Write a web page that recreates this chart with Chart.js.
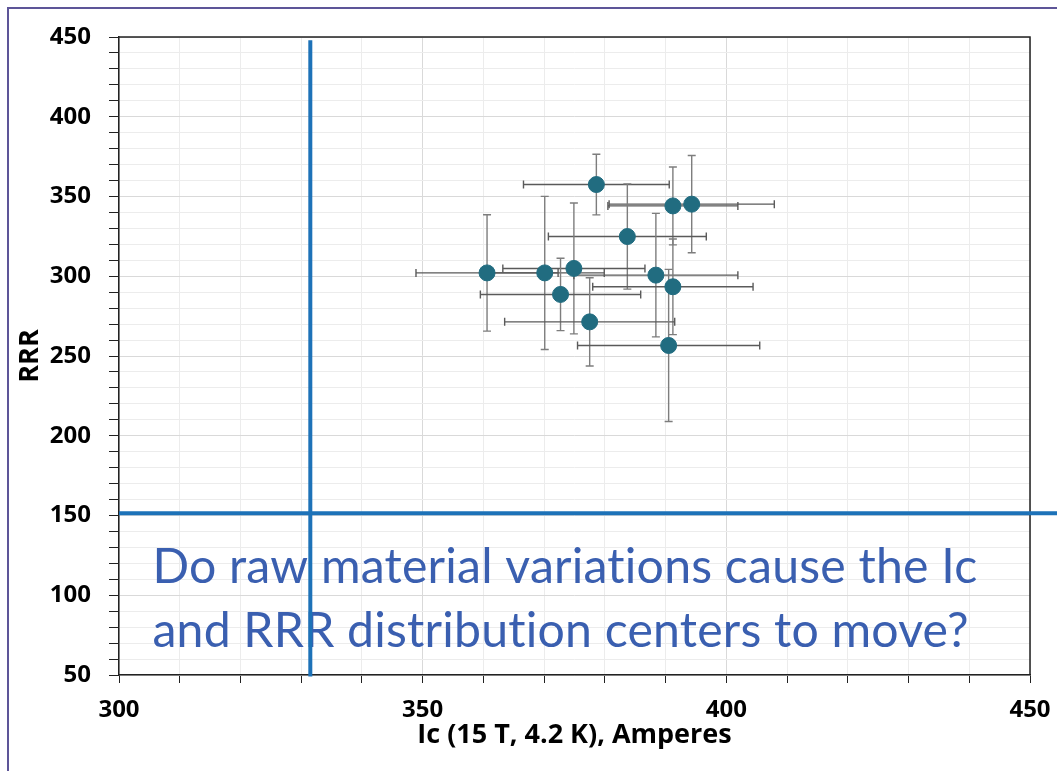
<!DOCTYPE html>
<html>
<head>
<meta charset="utf-8">
<script src="https://cdn.jsdelivr.net/npm/chart.js@4.4.1/dist/chart.umd.min.js"></script>
<style>
  html, body { margin: 0; padding: 0; background: #ffffff; }
  #wrap { position: relative; width: 1057px; height: 771px; overflow: hidden; }
  #frame { position: absolute; left: 7px; top: 7px; width: 1100px; height: 800px;
           border-left: 2px solid #5d5598; border-top: 2px solid #5d5598; pointer-events: none; }
  canvas { position: absolute; left: 0; top: 0; }
</style>
</head>
<body>
<div id="wrap">
  <canvas id="chart" width="1057" height="771"></canvas>
  <div id="frame"></div>
</div>
<script>
// Critical current (A) at 15 T, 4.2 K and residual resistivity ratio per billet
const icValues  = [378.6, 391.2, 394.3, 383.7, 360.6, 370.1, 374.9, 388.4, 391.2, 372.7, 377.5, 390.5];
const rrrValues = [357.5, 344.1, 345.2, 324.9, 302.1, 302.1, 304.9, 300.7, 293.4, 288.6, 271.4, 256.6];
// Spread (+/-) of each distribution
const icErr  = [12.0, 10.7, 13.6, 13.0, 11.7, 9.8, 11.7, 13.5, 13.2, 13.2, 14.0, 15.0];
const rrrErr = [19.0, 24.4, 30.5, 33.0, 36.5, 48.0, 41.0, 38.7, 30.0, 22.7, 27.7, 47.7];

// Specification limits
const icLimit = 331.5;
const rrrLimit = 151.4;

const xTicks = [300, 350, 400, 450];
const yTicks = [50, 100, 150, 200, 250, 300, 350, 400, 450];

const noteLines = ['Do raw material variations cause the Ic', 'and RRR distribution centers to move?'];
const xTitle = 'Ic (15 T, 4.2 K), Amperes';
const yTitle = 'RRR';

const points = icValues.map((v, i) => ({ x: v, y: rrrValues[i] }));

// Error bars drawn through the chart's scales
const errorBars = {
  id: 'errorBars',
  beforeDatasetsDraw(chart) {
    const { ctx, scales: { x, y } } = chart;
    const cap = 4;
    ctx.save();
    ctx.lineWidth = 1.4;
    icValues.forEach((v, i) => {
      const px = x.getPixelForValue(v);
      const py = y.getPixelForValue(rrrValues[i]);
      // vertical (RRR)
      const yTop = y.getPixelForValue(rrrValues[i] + rrrErr[i]);
      const yBot = y.getPixelForValue(rrrValues[i] - rrrErr[i]);
      ctx.strokeStyle = '#7d7d7d';
      ctx.beginPath();
      ctx.moveTo(px, yTop); ctx.lineTo(px, yBot);
      ctx.moveTo(px - cap, yTop); ctx.lineTo(px + cap, yTop);
      ctx.moveTo(px - cap, yBot); ctx.lineTo(px + cap, yBot);
      ctx.stroke();
      // horizontal (Ic)
      const xL = x.getPixelForValue(v - icErr[i]);
      const xR = x.getPixelForValue(v + icErr[i]);
      ctx.strokeStyle = '#5a5a5a';
      ctx.beginPath();
      ctx.moveTo(xL, py); ctx.lineTo(xR, py);
      ctx.moveTo(xL, py - cap); ctx.lineTo(xL, py + cap);
      ctx.moveTo(xR, py - cap); ctx.lineTo(xR, py + cap);
      ctx.stroke();
    });
    ctx.restore();
  }
};

// Question text and specification limit lines
const overlay = {
  id: 'overlay',
  afterDatasetsDraw(chart) {
    const { ctx, scales: { x, y } } = chart;
    ctx.save();
    // question text, sized to span the plot; a tiny letter spacing keeps "ti" unligated
    ctx.letterSpacing = '0.2px';
    const targetWidth = 826;
    let size = 44;
    ctx.font = size + 'px Lato';
    const w = ctx.measureText(noteLines[0]).width;
    size = size * targetWidth / w;
    ctx.font = size.toFixed(2) + 'px Lato';
    ctx.fillStyle = '#3a5fb0';
    ctx.textBaseline = 'alphabetic';
    ctx.textAlign = 'left';
    const left = x.getPixelForValue(305.5);
    ctx.fillText(noteLines[0], left, y.getPixelForValue(107.7));
    ctx.fillText(noteLines[1], left, y.getPixelForValue(67.8));
    ctx.letterSpacing = '0px';

    // limit lines
    ctx.strokeStyle = '#1d72b8';
    ctx.lineWidth = 4;
    ctx.beginPath();
    ctx.moveTo(x.getPixelForValue(300), y.getPixelForValue(rrrLimit));
    ctx.lineTo(x.getPixelForValue(455), y.getPixelForValue(rrrLimit));
    ctx.moveTo(x.getPixelForValue(icLimit), y.getPixelForValue(448));
    ctx.lineTo(x.getPixelForValue(icLimit), y.getPixelForValue(49));
    ctx.stroke();
    ctx.restore();
  }
};

// Plot box border on top and right
const boxBorder = {
  id: 'boxBorder',
  beforeDatasetsDraw(chart) {
    const { ctx, chartArea: a } = chart;
    ctx.save();
    ctx.strokeStyle = '#222';
    ctx.lineWidth = 1.5;
    ctx.beginPath();
    ctx.moveTo(a.left, a.top); ctx.lineTo(a.right, a.top); ctx.lineTo(a.right, a.bottom);
    ctx.stroke();
    ctx.restore();
  }
};

const gridColor = (ctx, majors) => {
  const v = ctx.tick ? ctx.tick.value : null;
  return majors.includes(v) ? '#d9d9d9' : '#ececec';
};

new Chart(document.getElementById('chart'), {
  type: 'scatter',
  data: {
    datasets: [{
      data: points,
      backgroundColor: '#216c80',
      borderColor: '#216c80',
      pointRadius: 8,
      pointHoverRadius: 8
    }]
  },
  options: {
    responsive: false,
    animation: false,
    events: [],
    layout: { padding: { left: 0, top: 37, right: 27, bottom: 0 } },
    plugins: { legend: { display: false }, tooltip: { enabled: false } },
    scales: {
      x: {
        type: 'linear', min: 300, max: 450,
        afterFit(s) { s.height = 96; s.paddingLeft = 0; s.paddingRight = 0; },
        border: { color: '#222', width: 1.5 },
        grid: {
          color: c => gridColor(c, xTicks),
          tickColor: '#222', tickLength: 8, drawTicks: true
        },
        ticks: {
          stepSize: 10, autoSkip: false, maxRotation: 0, padding: 13,
          color: '#000', font: { family: 'Open Sans', size: 24, weight: 'bold' },
          callback: v => xTicks.includes(v) ? String(v) : ''
        },
        title: {
          display: true, text: xTitle, color: '#000',
          font: { family: 'Open Sans', size: 27, weight: 'bold' },
          padding: { top: 0, bottom: 19 }
        }
      },
      y: {
        type: 'linear', min: 50, max: 450,
        afterFit(s) { s.width = 119; s.paddingTop = 0; s.paddingBottom = 0; },
        border: { color: '#222', width: 1.5 },
        grid: {
          color: c => gridColor(c, yTicks),
          tickColor: '#222', tickLength: 10, drawTicks: true
        },
        ticks: {
          stepSize: 10, autoSkip: false, padding: 18,
          color: '#000', font: { family: 'Open Sans', size: 24, weight: 'bold' },
          callback: v => yTicks.includes(v) ? String(v) : ''
        },
        title: {
          display: true, text: yTitle, color: '#000',
          font: { family: 'Open Sans', size: 27, weight: 'bold' },
          padding: { top: 14, bottom: 0 }
        }
      }
    }
  },
  plugins: [boxBorder, errorBars, overlay]
});
</script>
</body>
</html>
